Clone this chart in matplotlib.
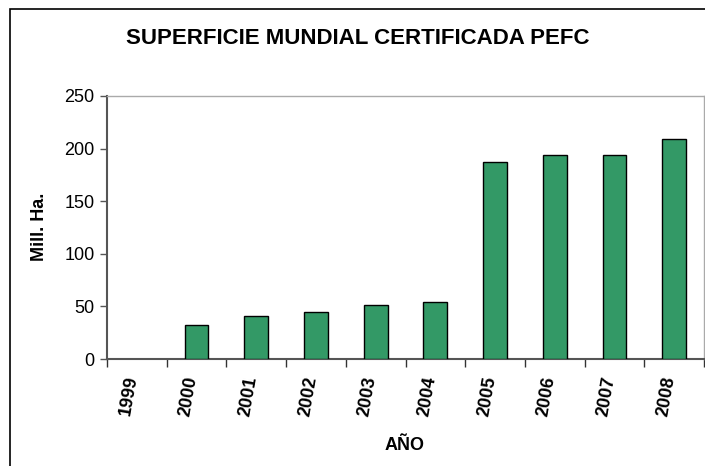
import matplotlib
matplotlib.use('Agg')
import matplotlib.pyplot as plt
from matplotlib.patches import Rectangle

plt.rcParams['font.family'] = ['Liberation Sans', 'DejaVu Sans']

# superficie certificada PEFC (millones de ha)
years = ['1999', '2000', '2001', '2002', '2003', '2004', '2005', '2006', '2007', '2008']
area = [0, 32, 41, 45, 51, 54, 187.5, 194, 194, 209]
yticks = [0, 50, 100, 150, 200, 250]

fig = plt.figure(figsize=(7.05, 4.66), dpi=100)
ax = fig.add_axes([107 / 705, 1 - 359 / 466, 597 / 705, 263 / 466])

# marco del grafico
fig.patches.append(Rectangle((10 / 705, -0.1), 1.2, 1 - 9 / 466 + 0.1,
                             transform=fig.transFigure, fill=False,
                             edgecolor='black', linewidth=1.2))

x = list(range(len(years)))
lw = [1.0 if v > 0 else 0 for v in area]
ax.bar(x, area, width=0.4, color='#339966', edgecolor='black', linewidth=lw, zorder=3)

ax.set_xlim(-0.5, len(years) - 0.5)
ax.set_ylim(0, 250)
ax.set_yticks(yticks)
ax.set_yticklabels([str(v) for v in yticks], fontsize=13)
ax.tick_params(axis='y', length=5, width=1, color='#555555', pad=4)

# ticks entre categorias, etiquetas en el centro
ax.set_xticks([i - 0.5 for i in range(len(years) + 1)])
ax.set_xticklabels([])
ax.tick_params(axis='x', length=6, width=1, color='#333333')
ax.set_xticks(x, minor=True)
ax.set_xticklabels(years, minor=True, rotation=80, rotation_mode='anchor',
                   ha='right', va='baseline', fontsize=13, fontweight='bold')
ax.tick_params(axis='x', which='minor', length=0, pad=13)

for s in ['left', 'bottom']:
    ax.spines[s].set_color('#555555')
    ax.spines[s].set_linewidth(1.5)
for s in ['top', 'right']:
    ax.spines[s].set_color('#aaaaaa')
    ax.spines[s].set_linewidth(1.0)

fig.text(39 / 705, 1 - 227 / 466, 'Mill. Ha.', ha='center', va='center',
         rotation=90, fontsize=13, fontweight='bold')
fig.text(405 / 705, 1 - 445 / 466, 'AÑO', ha='center', va='center',
         fontsize=13, fontweight='bold')
fig.text(358 / 705, 1 - 39 / 466, 'SUPERFICIE MUNDIAL CERTIFICADA PEFC',
         ha='center', va='center', fontsize=16, fontweight='bold')

fig.savefig('out.png', dpi=100)
